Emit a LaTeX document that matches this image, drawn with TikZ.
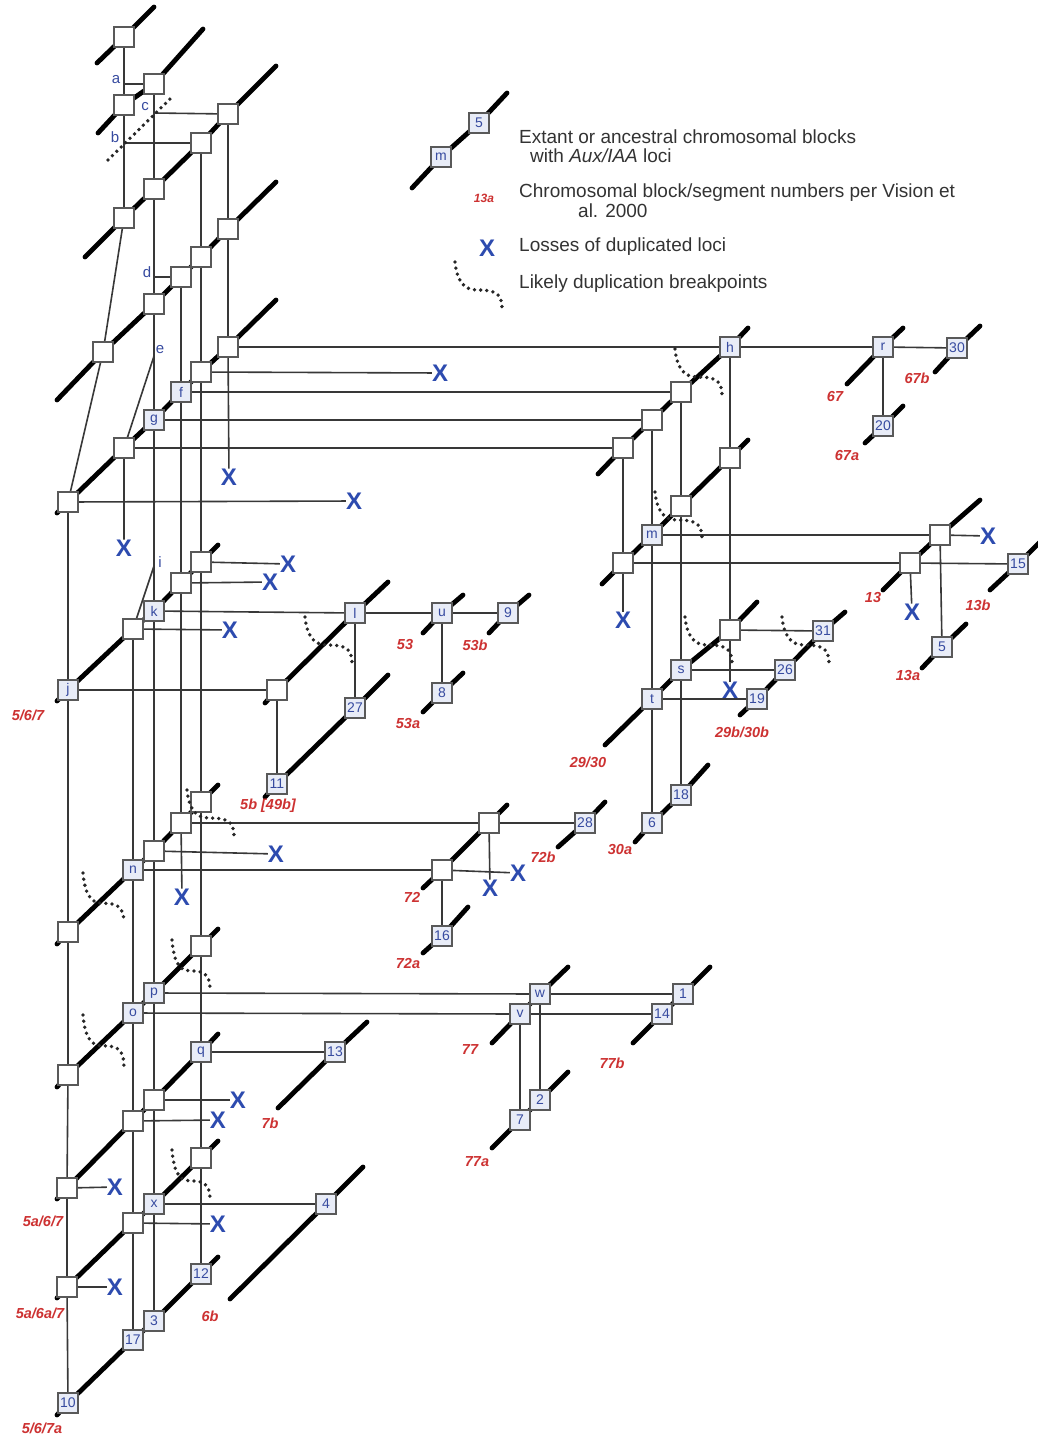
\documentclass[tikz,border=0pt]{standalone}
\usepackage{fontspec}
\setmainfont{Liberation Sans}
\usetikzlibrary{backgrounds}
\definecolor{lblue}{RGB}{55,75,160}
\definecolor{xblue}{RGB}{45,75,175}
\definecolor{sred}{RGB}{205,50,50}
\definecolor{bfill}{RGB}{232,236,247}
\begin{document}
\begin{tikzpicture}[x=1pt,y=-1pt,
  chrom/.style={line width=4.8pt, line cap=round, line join=round, black},
  conn/.style={line width=1.6pt, draw=black!78},
  blk/.style={draw=black!65, fill=white, line width=1.2pt, minimum width=20pt, minimum height=20pt, inner sep=0pt},
  lblk/.style={blk, fill=bfill, text=lblue, font=\fontsize{14}{14}\selectfont},
  xm/.style={text=xblue, font=\bfseries\fontsize{24}{24}\selectfont, inner sep=0pt},
  seglab/.style={text=sred, font=\bfseries\itshape\fontsize{14.5}{14.5}\selectfont, inner sep=0pt},
  brl/.style={text=lblue, font=\fontsize{15}{15}\selectfont, inner sep=0pt},
  brkpt/.style={line width=3.8pt, dash pattern=on 0pt off 6.2pt, line cap=round, black!85},
  legtxt/.style={text=black!80, font=\fontsize{19}{19}\selectfont, inner sep=0pt, anchor=west},
  bkcurve/.pic={\draw[brkpt] (0,0) .. controls (2,18) and (8,28) .. (22,28) .. controls (38,28) and (47,30) .. (47,46);}
]
\useasboundingbox (0,0) rectangle (1038,1437);
% ---------- boxes: left column group ----------
\node[blk] (b1) at (124,37) {};
\node[blk] (t2a) at (124,105) {};
\node[blk] (t2b) at (154,84) {};
\node[blk] (t3a) at (124,218) {};
\node[blk] (t3b) at (154,189) {};
\node[blk] (t3c) at (201,143) {};
\node[blk] (t3d) at (228,114) {};
\node[blk] (t4a) at (103,352) {};
\node[blk] (t4b) at (154,304) {};
\node[blk] (t4c) at (181,277) {};
\node[blk] (t4d) at (201,257) {};
\node[blk] (t4e) at (228,229) {};
\node[blk] (t5a) at (68,502) {};
\node[blk] (t5b) at (124,448) {};
\node[lblk] (g) at (154,420) {g};
\node[lblk] (f) at (181,392) {f};
\node[blk] (t5e) at (201,372) {};
\node[blk] (t5f) at (228,347) {};
\node[lblk] (j) at (68,690) {j};
\node[blk] (m1b) at (133,629) {};
\node[lblk] (k) at (154,611) {k};
\node[blk] (m1d) at (181,583) {};
\node[blk] (m1e) at (201,562) {};
\node[blk] (m2a) at (277,690) {};
\node[lblk] (l) at (355,613) {l};
\node[lblk] (u) at (442,613) {u};
\node[lblk] (nine) at (508,613) {9};
\node[lblk] (eight) at (442,693) {8};
\node[lblk] (eleven) at (277,784) {11};
\node[lblk] (s27) at (355,708) {27};
\node[blk] (m4a) at (68,932) {};
\node[lblk] (n) at (133,870) {n};
\node[blk] (m4c) at (154,851) {};
\node[blk] (m4d) at (181,823) {};
\node[blk] (m4e) at (201,802) {};
\node[blk] (m5a) at (68,1075) {};
\node[lblk] (o) at (133,1013) {o};
\node[lblk] (p) at (154,993) {p};
\node[blk] (m5d) at (201,946) {};
\node[blk] (m6a) at (67,1188) {};
\node[blk] (m6b) at (133,1121) {};
\node[blk] (m6c) at (154,1100) {};
\node[lblk] (q) at (201,1052) {q};
\node[blk] (m7a) at (67,1287) {};
\node[blk] (m7b) at (133,1223) {};
\node[lblk] (xb) at (154,1204) {x};
\node[blk] (m7d) at (201,1158) {};
\node[lblk] (ten) at (68,1403) {10};
\node[lblk] (s17) at (133,1340) {17};
\node[lblk] (three) at (154,1321) {3};
\node[lblk] (twelve) at (201,1274) {12};
\node[lblk] (s13) at (335,1052) {13};
\node[lblk] (four) at (326,1204) {4};
% ---------- boxes: right group ----------
\node[lblk] (h) at (730,347) {h};
\node[blk] (r1b) at (681,392) {};
\node[blk] (r1c) at (652,420) {};
\node[blk] (r1d) at (623,448) {};
\node[blk] (r2a) at (730,458) {};
\node[blk] (r2b) at (681,506) {};
\node[lblk] (m) at (652,535) {m};
\node[blk] (r2d) at (623,563) {};
\node[lblk] (r) at (883,347) {r};
\node[lblk] (s30) at (957,348) {30};
\node[lblk] (s20) at (883,426) {20};
\node[blk] (r3a) at (940,535) {};
\node[blk] (r3b) at (910,563) {};
\node[lblk] (s15) at (1018,564) {15};
\node[lblk] (five) at (942,647) {5};
\node[blk] (r4a) at (730,630) {};
\node[lblk] (s) at (681,670) {s};
\node[lblk] (t) at (652,699) {t};
\node[lblk] (s31) at (823,631) {31};
\node[lblk] (s26) at (785,670) {26};
\node[lblk] (s19) at (757,699) {19};
\node[lblk] (s18) at (681,795) {18};
\node[lblk] (six) at (652,823) {6};
\node[blk] (r6a) at (489,823) {};
\node[blk] (r6b) at (442,870) {};
\node[lblk] (s28) at (585,823) {28};
\node[lblk] (s16) at (442,936) {16};
\node[lblk] (v) at (520,1014) {v};
\node[lblk] (w) at (540,994) {w};
\node[lblk] (one) at (683,994) {1};
\node[lblk] (s14) at (662,1014) {14};
\node[lblk] (two) at (540,1100) {2};
\node[lblk] (seven) at (520,1120) {7};
% legend boxes
\node[lblk] (lm) at (441,157) {m};
\node[lblk] (l5) at (479,123) {5};
% ---------- losses ----------
\node[xm] (xl0) at (487,248) {X};
\node[xm] (xl1) at (440,373) {X};
\node[xm] (xl2) at (229,477) {X};
\node[xm] (xl3) at (354,501) {X};
\node[xm] (xl4) at (124,548) {X};
\node[xm] (xl5) at (288,564) {X};
\node[xm] (xl6) at (270,582) {X};
\node[xm] (xl7) at (230,630) {X};
\node[xm] (xl8) at (623,620) {X};
\node[xm] (xl9) at (988,536) {X};
\node[xm] (xl10) at (912,612) {X};
\node[xm] (xl11) at (730,690) {X};
\node[xm] (xl12) at (276,854) {X};
\node[xm] (xl13) at (182,897) {X};
\node[xm] (xl14) at (490,888) {X};
\node[xm] (xl15) at (518,873) {X};
\node[xm] (xl16) at (238,1100) {X};
\node[xm] (xl17) at (218,1120) {X};
\node[xm] (xl18) at (115,1187) {X};
\node[xm] (xl19) at (218,1224) {X};
\node[xm] (xl20) at (115,1287) {X};
% ---------- branch points and letters ----------
\coordinate (ca) at (124,84);
\coordinate (cb) at (124,143);
\coordinate (cc) at (154,113);
\coordinate (cd) at (154,277);
\coordinate (ce) at (154,356);
\coordinate (ci) at (154,566);
\node[brl] (la) at (116,80) {a};
\node[brl] (lb) at (115,137) {b};
\node[brl] (lc) at (145,107) {c};
\node[brl] (ld) at (147,272) {d};
\node[brl] (le) at (160,350) {e};
\node[brl] (li) at (160,562) {i};
% ---------- segment labels ----------
\node[seglab] (g67) at (835,397) {67};
\node[seglab] (g67b) at (917,378) {67b};
\node[seglab] (g67a) at (847,456) {67a};
\node[seglab] (g13) at (873,598) {13};
\node[seglab] (g13b) at (978,605) {13b};
\node[seglab] (g13a) at (908,675) {13a};
\node[seglab] (g53) at (405,645) {53};
\node[seglab] (g53b) at (475,645) {53b};
\node[seglab] (g53a) at (408,723) {53a};
\node[seglab] (g2930) at (588,762) {29/30};
\node[seglab] (g29b) at (742,732) {29b/30b};
\node[seglab] (g30a) at (620,849) {30a};
\node[seglab] (g567) at (28,715) {5/6/7};
\node[seglab] (g5b) at (268,806) {5b [49b]};
\node[seglab] (g72) at (412,897) {72};
\node[seglab] (g72b) at (543,857) {72b};
\node[seglab] (g72a) at (408,963) {72a};
\node[seglab] (g77) at (470,1049) {77};
\node[seglab] (g77b) at (612,1063) {77b};
\node[seglab] (g77a) at (477,1162) {77a};
\node[seglab] (g7b) at (270,1123) {7b};
\node[seglab] (g6b) at (210,1316) {6b};
\node[seglab] (g5a67) at (43,1221) {5a/6/7};
\node[seglab] (g5a6a7) at (40,1313) {5a/6a/7};
\node[seglab] (g567a) at (42,1428) {5/6/7a};
\node[seglab, font=\bfseries\itshape\fontsize{12}{12}\selectfont] (g13leg) at (484,198) {13a};
% ---------- legend texts ----------
\node[legtxt] (lt1) at (519,137) {Extant or ancestral chromosomal blocks};
\node[legtxt] (lt1b) at (530,156) {with \textit{Aux/IAA} loci};
\node[legtxt] (lt2) at (519,193) {Chromosomal block/segment numbers per Vision et};
\node[legtxt] (lt2b) at (578,211) {al. 2000};
\node[legtxt] (lt3) at (519,247) {Losses of duplicated loci};
\node[legtxt] (lt4) at (519,284) {Likely duplication breakpoints};
% ---------- breakpoints ----------
\draw[brkpt] (108,160) -- (172,97);
\pic at (455,262) {bkcurve};
\pic at (675,349) {bkcurve};
\pic at (655,492) {bkcurve};
\pic at (305,617) {bkcurve};
\pic at (685,617) {bkcurve};
\pic at (782,617) {bkcurve};
\pic at (187,790) {bkcurve};
\pic[xscale=0.87,yscale=1.08] at (83,873) {bkcurve};
\pic[xscale=0.81,yscale=1.1] at (172,940) {bkcurve};
\pic[xscale=0.87,yscale=1.1] at (83,1015) {bkcurve};
\pic[xscale=0.81,yscale=1.1] at (172,1150) {bkcurve};
% ---------- background: connectors and chromosome bars ----------
\begin{pgfonlayer}{background}
\fill[white] (0,0) rectangle (1038,1437);
% vertical lineages
\draw[conn] (b1.center) -- (t2a.center) -- (t3a.center);
\draw[conn] (ca) -- (t2b.center);
\draw[conn] (cb) -- (t3c.center);
\draw[conn] (cc) -- (t3d.center);
\draw[conn] (t2b.center) -- (t3b.center) -- (t4b.center) -- (g.center) -- (k.center) -- (m4c.center) -- (p.center) -- (m6c.center) -- (xb.center) -- (three.center);
\draw[conn] (t3c.center) -- (t4d.center) -- (t5e.center) -- (m1e.center) -- (m4e.center) -- (m5d.center) -- (q.center) -- (m7d.center) -- (twelve.center);
\draw[conn] (t3d.center) -- (t4e.center) -- (t5f.center) -- (xl2);
\draw[conn] (cd) -- (t4c.center) -- (f.center) -- (m1d.center) -- (m4d.center) -- (xl13);
\draw[conn] (t3a.center) -- (t4a.center) -- (t5a.center);
\draw[conn] (ce) -- (t5b.center) -- (xl4);
\draw[conn] (ci) -- (m1b.center) -- (n.center) -- (o.center) -- (m6b.center) -- (m7b.center) -- (s17.center);
\draw[conn] (t5a.center) -- (j.center) -- (m4a.center) -- (m5a.center) -- (m6a.center) -- (m7a.center) -- (ten.center);
% horizontal links
\draw[conn] (t5f.center) -- (h.center) -- (r.center) -- (s30.center);
\draw[conn] (t5e.center) -- (xl1);
\draw[conn] (f.center) -- (r1b.center);
\draw[conn] (g.center) -- (r1c.center);
\draw[conn] (t5b.center) -- (r1d.center);
\draw[conn] (t5a.center) -- (xl3);
\draw[conn] (m1e.center) -- (xl5);
\draw[conn] (m1d.center) -- (xl6);
\draw[conn] (k.center) -- (l.center) -- (u.center) -- (nine.center);
\draw[conn] (m1b.center) -- (xl7);
\draw[conn] (j.center) -- (m2a.center);
\draw[conn] (m4d.center) -- (r6a.center) -- (s28.center);
\draw[conn] (m4c.center) -- (xl12);
\draw[conn] (n.center) -- (r6b.center) -- (xl15);
\draw[conn] (p.center) -- (w.center) -- (one.center);
\draw[conn] (o.center) -- (v.center) -- (s14.center);
\draw[conn] (q.center) -- (s13.center);
\draw[conn] (m6c.center) -- (xl16);
\draw[conn] (m6b.center) -- (xl17);
\draw[conn] (m6a.center) -- (xl18);
\draw[conn] (xb.center) -- (four.center);
\draw[conn] (m7b.center) -- (xl19);
\draw[conn] (m7a.center) -- (xl20);
% right group
\draw[conn] (r1b.center) -- (r2b.center) -- (s.center) -- (s18.center);
\draw[conn] (r1c.center) -- (m.center) -- (t.center) -- (six.center);
\draw[conn] (r1d.center) -- (r2d.center) -- (xl8);
\draw[conn] (h.center) -- (r2a.center) -- (r4a.center) -- (xl11);
\draw[conn] (m.center) -- (r3a.center) -- (xl9);
\draw[conn] (r2d.center) -- (r3b.center) -- (s15.center);
\draw[conn] (r3b.center) -- (xl10);
\draw[conn] (r3a.center) -- (five.center);
\draw[conn] (r.center) -- (s20.center);
\draw[conn] (r4a.center) -- (s31.center);
\draw[conn] (s.center) -- (s26.center);
\draw[conn] (t.center) -- (s19.center);
\draw[conn] (l.center) -- (s27.center);
\draw[conn] (m2a.center) -- (eleven.center);
\draw[conn] (u.center) -- (eight.center);
\draw[conn] (r6a.center) -- (xl14);
\draw[conn] (r6b.center) -- (s16.center);
\draw[conn] (v.center) -- (seven.center);
\draw[conn] (w.center) -- (two.center);
% chromosome bars
\draw[chrom] (97,63) -- (b1.center) -- (154,7);
\draw[chrom] (98,133) -- (t2a.center) -- (t2b.center) -- (203,29);
\draw[chrom] (85,257) -- (t3a.center) -- (t3b.center) -- (t3c.center) -- (t3d.center) -- (276,66);
\draw[chrom] (57,400) -- (t4a.center) -- (t4b.center) -- (t4c.center) -- (t4d.center) -- (t4e.center) -- (276,182);
\draw[chrom] (57,513) -- (t5a.center) -- (t5b.center) -- (g.center) -- (f.center) -- (t5e.center) -- (t5f.center) -- (276,300);
\draw[chrom] (57,701) -- (j.center) -- (m1b.center) -- (k.center) -- (m1d.center) -- (m1e.center) -- (218,545);
\draw[chrom] (265,703) -- (m2a.center) -- (l.center) -- (388,582);
\draw[chrom] (423,633) -- (u.center) -- (463,595);
\draw[chrom] (489,633) -- (nine.center) -- (529,595);
\draw[chrom] (423,712) -- (eight.center) -- (463,673);
\draw[chrom] (265,797) -- (eleven.center) -- (s27.center) -- (388,675);
\draw[chrom] (57,944) -- (m4a.center) -- (n.center) -- (m4c.center) -- (m4d.center) -- (m4e.center) -- (218,785);
\draw[chrom] (57,1087) -- (m5a.center) -- (o.center) -- (p.center) -- (m5d.center) -- (218,929);
\draw[chrom] (57,1199) -- (m6a.center) -- (m6b.center) -- (m6c.center) -- (q.center) -- (218,1034);
\draw[chrom] (57,1298) -- (m7a.center) -- (m7b.center) -- (xb.center) -- (m7d.center) -- (218,1141);
\draw[chrom] (57,1415) -- (ten.center) -- (s17.center) -- (three.center) -- (twelve.center) -- (218,1257);
\draw[chrom] (278,1108) -- (s13.center) -- (367,1022);
\draw[chrom] (230,1299) -- (four.center) -- (363,1167);
\draw[chrom] (598,474) -- (r1d.center) -- (r1c.center) -- (r1b.center) -- (h.center) -- (748,328);
\draw[chrom] (602,584) -- (r2d.center) -- (m.center) -- (r2b.center) -- (r2a.center) -- (748,440);
\draw[chrom] (847,384) -- (r.center) -- (903,328);
\draw[chrom] (935,372) -- (s30.center) -- (980,326);
\draw[chrom] (865,443) -- (s20.center) -- (903,406);
\draw[chrom] (883,590) -- (r3b.center) -- (r3a.center) -- (980,500);
\draw[chrom] (990,590) -- (s15.center) -- (1040,542);
\draw[chrom] (922,668) -- (five.center) -- (966,624);
\draw[chrom] (605,745) -- (t.center) -- (s.center) -- (r4a.center) -- (757,602);
\draw[chrom] (740,715) -- (s19.center) -- (s26.center) -- (s31.center) -- (845,612);
\draw[chrom] (635,842) -- (six.center) -- (s18.center) -- (708,765);
\draw[chrom] (423,888) -- (r6b.center) -- (r6a.center) -- (507,805);
\draw[chrom] (558,847) -- (s28.center) -- (605,802);
\draw[chrom] (423,953) -- (s16.center) -- (468,907);
\draw[chrom] (492,1043) -- (v.center) -- (w.center) -- (568,967);
\draw[chrom] (633,1043) -- (s14.center) -- (one.center) -- (710,967);
\draw[chrom] (492,1148) -- (seven.center) -- (two.center) -- (568,1072);
\draw[chrom] (412,188) -- (lm.center) -- (l5.center) -- (507,93);
\end{pgfonlayer}
\end{tikzpicture}
\end{document}
